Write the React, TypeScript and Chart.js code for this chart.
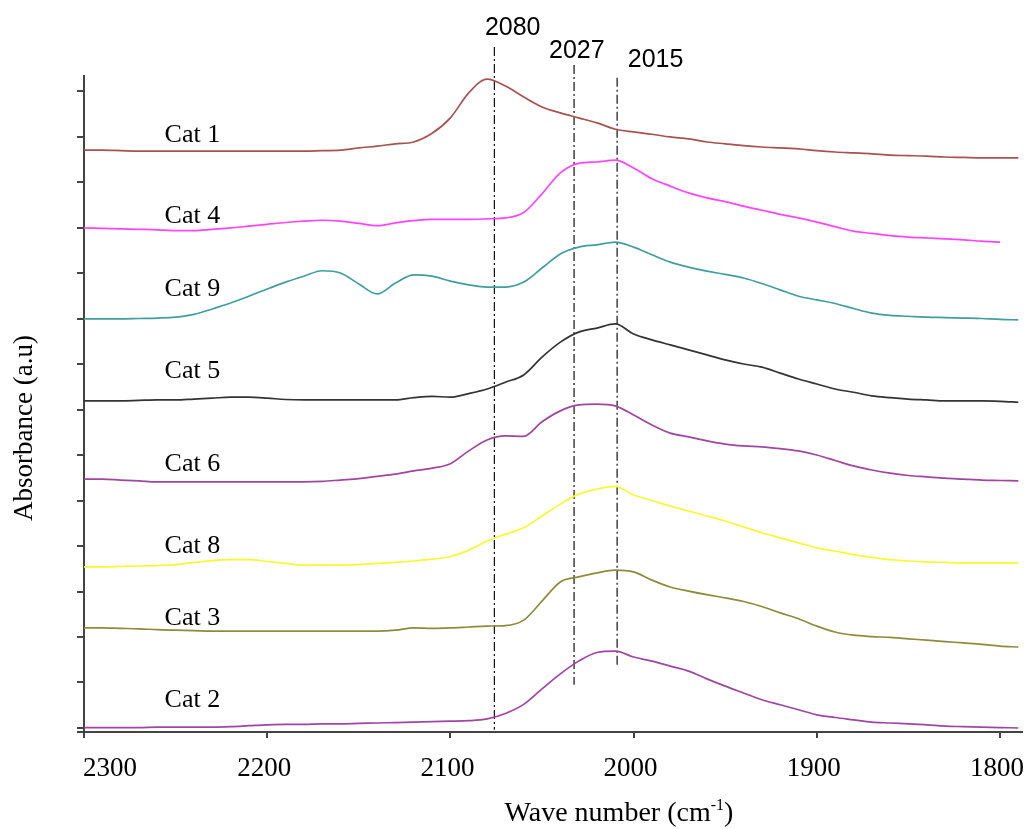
import React, { useEffect, useRef } from "react";
import { Chart, registerables } from "chart.js";

Chart.register(...registerables);

// Wave numbers (cm-1) at which each spectrum is sampled
const waveNumbers = [
  2300, 2290, 2280, 2270, 2260, 2250, 2240, 2230, 2220, 2210,
  2200, 2190, 2180, 2170, 2160, 2150, 2140, 2130, 2120, 2110,
  2100, 2090, 2080, 2070, 2060, 2050, 2040, 2030, 2020, 2010,
  2000, 1990, 1980, 1970, 1960, 1950, 1940, 1930, 1920, 1910,
  1900, 1890, 1880, 1870, 1860, 1850, 1840, 1830, 1820, 1810,
  1800, 1790,
];

// Absorbance (a.u., stacked with offsets)
const cat1 = [
  12.70, 12.70, 12.69, 12.68, 12.68, 12.68, 12.68, 12.68, 12.68, 12.68,
  12.68, 12.68, 12.68, 12.69, 12.70, 12.75, 12.79, 12.84, 12.88, 13.07,
  13.41, 13.96, 14.26, 14.11, 13.87, 13.65, 13.52, 13.41, 13.30, 13.16,
  13.10, 13.05, 12.99, 12.95, 12.88, 12.84, 12.80, 12.77, 12.75, 12.73,
  12.69, 12.66, 12.64, 12.62, 12.59, 12.58, 12.57, 12.55, 12.54, 12.53,
  12.53, 12.53,
];
const cat4 = [
  10.99, 10.98, 10.97, 10.96, 10.95, 10.93, 10.93, 10.96, 10.99, 11.03,
  11.07, 11.11, 11.14, 11.16, 11.14, 11.09, 11.04, 11.10, 11.15, 11.18,
  11.18, 11.18, 11.19, 11.21, 11.33, 11.74, 12.20, 12.41, 12.44, 12.48,
  12.31, 12.07, 11.91, 11.76, 11.65, 11.57, 11.47, 11.38, 11.29, 11.21,
  11.12, 11.02, 10.92, 10.87, 10.82, 10.79, 10.77, 10.75, 10.73, 10.70,
  10.68, null,
];
const cat9 = [
  8.99, 8.99, 8.99, 9.00, 9.01, 9.03, 9.09, 9.21, 9.34, 9.49,
  9.65, 9.80, 9.93, 10.05, 10.00, 9.76, 9.54, 9.78, 9.96, 9.93,
  9.82, 9.74, 9.69, 9.69, 9.80, 10.11, 10.42, 10.57, 10.62, 10.68,
  10.57, 10.40, 10.24, 10.13, 10.04, 9.97, 9.89, 9.77, 9.63, 9.49,
  9.41, 9.33, 9.22, 9.12, 9.07, 9.05, 9.03, 9.02, 9.01, 9.00,
  8.98, 8.97,
];
const cat5 = [
  7.19, 7.19, 7.19, 7.20, 7.21, 7.21, 7.23, 7.25, 7.27, 7.27,
  7.25, 7.22, 7.21, 7.21, 7.21, 7.21, 7.21, 7.21, 7.26, 7.29,
  7.27, 7.35, 7.45, 7.60, 7.76, 8.15, 8.48, 8.70, 8.79, 8.88,
  8.66, 8.53, 8.42, 8.31, 8.20, 8.09, 8.00, 7.93, 7.80, 7.67,
  7.56, 7.45, 7.38, 7.30, 7.26, 7.23, 7.21, 7.19, 7.19, 7.19,
  7.18, 7.16,
];
const cat6 = [
  5.47, 5.47, 5.45, 5.43, 5.41, 5.41, 5.41, 5.41, 5.41, 5.41,
  5.41, 5.41, 5.41, 5.42, 5.45, 5.48, 5.53, 5.58, 5.65, 5.71,
  5.81, 6.09, 6.33, 6.42, 6.41, 6.73, 6.97, 7.10, 7.12, 7.08,
  6.88, 6.66, 6.48, 6.40, 6.31, 6.24, 6.20, 6.18, 6.14, 6.09,
  6.00, 5.88, 5.76, 5.67, 5.60, 5.55, 5.52, 5.49, 5.47, 5.45,
  5.44, 5.43,
];
const cat8 = [
  3.54, 3.54, 3.55, 3.56, 3.57, 3.59, 3.64, 3.68, 3.70, 3.70,
  3.66, 3.62, 3.58, 3.58, 3.58, 3.59, 3.62, 3.64, 3.67, 3.71,
  3.77, 3.91, 4.11, 4.26, 4.40, 4.66, 4.92, 5.14, 5.25, 5.31,
  5.12, 5.00, 4.88, 4.77, 4.66, 4.55, 4.42, 4.29, 4.18, 4.07,
  3.96, 3.89, 3.81, 3.75, 3.70, 3.67, 3.65, 3.64, 3.63, 3.63,
  3.63, 3.63,
];
const cat3 = [
  2.20, 2.20, 2.19, 2.18, 2.16, 2.15, 2.14, 2.13, 2.13, 2.13,
  2.13, 2.13, 2.13, 2.13, 2.13, 2.13, 2.13, 2.15, 2.20, 2.19,
  2.20, 2.22, 2.24, 2.25, 2.37, 2.79, 3.21, 3.32, 3.41, 3.47,
  3.43, 3.25, 3.10, 3.01, 2.93, 2.86, 2.78, 2.67, 2.53, 2.40,
  2.24, 2.11, 2.04, 2.01, 1.99, 1.96, 1.93, 1.90, 1.87, 1.84,
  1.80, 1.78,
];
const cat2 = [
  0.01, 0.01, 0.01, 0.01, 0.02, 0.02, 0.02, 0.02, 0.03, 0.05,
  0.07, 0.08, 0.08, 0.09, 0.09, 0.10, 0.11, 0.12, 0.13, 0.14,
  0.15, 0.16, 0.20, 0.32, 0.52, 0.86, 1.19, 1.47, 1.66, 1.69,
  1.56, 1.47, 1.36, 1.25, 1.08, 0.92, 0.77, 0.62, 0.51, 0.40,
  0.29, 0.23, 0.18, 0.13, 0.11, 0.09, 0.07, 0.04, 0.03, 0.02,
  0.01, 0.00,
];

const seriesNames = ["Cat 1", "Cat 4", "Cat 9", "Cat 5", "Cat 6", "Cat 8", "Cat 3", "Cat 2"];
const seriesValues = [cat1, cat4, cat9, cat5, cat6, cat8, cat3, cat2];
const seriesColors = ["#a8524f", "#ff44ff", "#3f9f9f", "#333333", "#a045a0", "#f8f830", "#8c8c3c", "#a045a5"];

// In-plot series labels (wave number, absorbance level of the text baseline)
const seriesLabelWave = 2256;
const seriesLabelLevels = [12.88, 11.10, 9.49, 7.69, 5.65, 3.85, 2.26, 0.46];

// Marked band positions
const peakNames = ["2080", "2027", "2015"];
const peakWaves = [2076, 2032.5, 2009];
const peakTops = [14.97, 14.57, 14.29];
const peakBottoms = [-0.04, 0.95, 1.38];
const peakNameWaves = [2066, 2031, 1988];
const peakNameLevels = [15.23, 14.73, 14.53];

const xMin = 1788;
const xMax = 2300;
const yMin = -0.088;
const yMax = 14.33;

const SERIF = "'Liberation Serif', 'Times New Roman', serif";
const SANS = "'Liberation Sans', Arial, sans-serif";

const textPlugin = {
  id: "textPlugin",
  afterDraw(chart: any) {
    const { ctx, chartArea, scales } = chart;
    const xs = scales.x;
    const ys = scales.y;
    ctx.save();
    // extend x-axis line slightly left of the y-axis
    ctx.strokeStyle = "#444";
    ctx.lineWidth = 2;
    ctx.beginPath();
    ctx.moveTo(chartArea.left - 7, chartArea.bottom);
    ctx.lineTo(chartArea.left, chartArea.bottom);
    ctx.stroke();

    // x tick labels (first one starts at the axis corner)
    ctx.fillStyle = "#000";
    ctx.font = `27px ${SERIF}`;
    ctx.textBaseline = "alphabetic";
    xs.ticks.forEach((t: any, i: number) => {
      const px = xs.getPixelForValue(t.value);
      ctx.textAlign = t.value === xMax ? "left" : "center";
      ctx.fillText(String(t.value), t.value === xMax ? px - 1 : px - 3, chartArea.bottom + 44);
    });

    // series labels
    ctx.font = `26px ${SERIF}`;
    ctx.textAlign = "left";
    seriesNames.forEach((n, i) => {
      ctx.fillText(n, xs.getPixelForValue(seriesLabelWave), ys.getPixelForValue(seriesLabelLevels[i]));
    });

    // peak labels
    ctx.font = `25px ${SANS}`;
    ctx.textAlign = "center";
    peakNames.forEach((n, i) => {
      ctx.fillText(n, xs.getPixelForValue(peakNameWaves[i]), ys.getPixelForValue(peakNameLevels[i]));
    });

    // x-axis title with superscript
    const main = "Wave number (cm";
    const sup = "-1";
    const end = ")";
    ctx.font = `28px ${SERIF}`;
    const w1 = ctx.measureText(main).width;
    const w3 = ctx.measureText(end).width;
    ctx.font = `16px ${SERIF}`;
    const w2 = ctx.measureText(sup).width;
    const total = w1 + w2 + w3;
    const cx = xs.getPixelForValue(2008);
    const base = chartArea.bottom + 89;
    const x0 = cx - total / 2;
    ctx.textAlign = "left";
    ctx.font = `28px ${SERIF}`;
    ctx.fillText(main, x0, base);
    ctx.font = `16px ${SERIF}`;
    ctx.fillText(sup, x0 + w1, base - 11);
    ctx.font = `28px ${SERIF}`;
    ctx.fillText(end, x0 + w1 + w2, base);

    // y-axis title
    ctx.translate(chartArea.left - 52, (chartArea.top + chartArea.bottom) / 2 + 24);
    ctx.rotate(-Math.PI / 2);
    ctx.textAlign = "center";
    ctx.font = `27px ${SERIF}`;
    ctx.fillText("Absorbance (a.u)", 0, 0);
    ctx.restore();
  },
};

export default function App() {
  const ref = useRef<HTMLCanvasElement | null>(null);

  useEffect(() => {
    if (!ref.current) return;
    const datasets: any[] = seriesValues.map((vals, si) => ({
      label: seriesNames[si],
      data: waveNumbers
        .map((w, i) => ({ x: w, y: vals[i] }))
        .filter((p) => p.y !== null),
      borderColor: seriesColors[si],
      backgroundColor: seriesColors[si],
      borderWidth: 1.7,
      pointRadius: 0,
      fill: false,
      cubicInterpolationMode: "monotone",
    }));
    peakWaves.forEach((w, i) => {
      datasets.push({
        label: peakNames[i],
        data: [
          { x: w, y: peakTops[i] },
          { x: w, y: peakBottoms[i] },
        ],
        borderColor: "#111",
        borderWidth: 1.2,
        borderDash: [9, 3, 2, 3],
        pointRadius: 0,
        fill: false,
        clip: false,
      });
    });

    const chart = new Chart(ref.current, {
      type: "line",
      data: { datasets },
      options: {
        responsive: false,
        maintainAspectRatio: false,
        animation: false,
        layout: { padding: { left: 0, top: 76, right: 5, bottom: 0 } },
        plugins: { legend: { display: false }, tooltip: { enabled: false } },
        scales: {
          x: {
            type: "linear",
            reverse: true,
            min: xMin,
            max: xMax,
            ticks: {
              stepSize: 100,
              includeBounds: false,
              display: false,
            },
            grid: { drawOnChartArea: false, drawTicks: true, tickLength: 6, color: "#444", lineWidth: 2 },
            border: { display: true, color: "#444", width: 2 },
            afterFit: (s: any) => {
              s.height = 97;
              s.paddingLeft = 0;
              s.paddingRight = 0;
            },
          },
          y: {
            type: "linear",
            min: yMin,
            max: yMax,
            ticks: { stepSize: 1, includeBounds: false, display: false },
            grid: { drawOnChartArea: false, drawTicks: true, tickLength: 7, color: "#444", lineWidth: 2 },
            border: { display: true, color: "#444", width: 2 },
            afterFit: (s: any) => {
              s.width = 84;
              s.paddingTop = 0;
              s.paddingBottom = 0;
            },
          },
        },
      } as any,
      plugins: [textPlugin],
    });
    return () => chart.destroy();
  }, []);

  return (
    <div style={{ position: "fixed", left: 0, top: 0, width: 1027, height: 829, background: "#fff" }}>
      <canvas ref={ref} width={1027} height={829} style={{ width: 1027, height: 829 }} />
    </div>
  );
}
